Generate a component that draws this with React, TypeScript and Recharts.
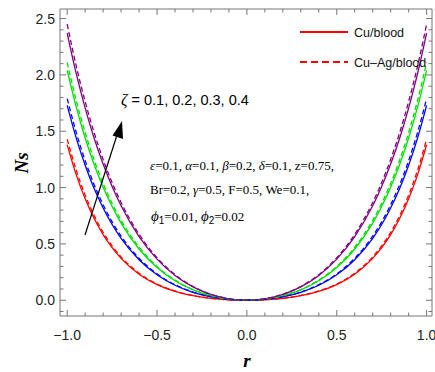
import React from 'react';
import { LineChart, Line, XAxis, YAxis } from 'recharts';

// radial coordinate r
const rValues = [-1, -0.95, -0.9, -0.85, -0.8, -0.75, -0.7, -0.6, -0.5, -0.4, -0.3, -0.2, -0.1, 0, 0.1, 0.2, 0.3, 0.4, 0.5, 0.6, 0.7, 0.75, 0.8, 0.85, 0.9, 0.95, 1];

// Ns for zeta = 0.1 .. 0.4, Cu/blood (solid) and Cu-Ag/blood (dashed)
const redCu = [1.38, 1.115, 0.9, 0.725, 0.582, 0.466, 0.371, 0.231, 0.139, 0.079, 0.041, 0.017, 0.004, 0, 0.004, 0.017, 0.041, 0.079, 0.139, 0.231, 0.371, 0.466, 0.582, 0.725, 0.9, 1.115, 1.38];
const redAg = [1.43, 1.156, 0.933, 0.751, 0.603, 0.483, 0.385, 0.24, 0.144, 0.082, 0.042, 0.017, 0.004, 0, 0.004, 0.017, 0.042, 0.082, 0.144, 0.24, 0.385, 0.483, 0.603, 0.751, 0.933, 1.156, 1.43];
const blueCu = [1.73, 1.441, 1.198, 0.991, 0.818, 0.672, 0.549, 0.36, 0.226, 0.133, 0.07, 0.03, 0.007, 0, 0.007, 0.03, 0.07, 0.133, 0.226, 0.36, 0.549, 0.672, 0.818, 0.991, 1.198, 1.441, 1.73];
const blueAg = [1.79, 1.491, 1.239, 1.026, 0.847, 0.696, 0.569, 0.372, 0.234, 0.138, 0.072, 0.031, 0.007, 0, 0.007, 0.031, 0.072, 0.138, 0.234, 0.372, 0.569, 0.696, 0.847, 1.026, 1.239, 1.491, 1.79];
const greenCu = [2.04, 1.716, 1.44, 1.204, 1.003, 0.832, 0.685, 0.455, 0.29, 0.173, 0.092, 0.039, 0.01, 0, 0.01, 0.039, 0.092, 0.173, 0.29, 0.455, 0.685, 0.832, 1.003, 1.204, 1.44, 1.716, 2.04];
const greenAg = [2.11, 1.775, 1.489, 1.245, 1.037, 0.86, 0.709, 0.471, 0.3, 0.179, 0.095, 0.04, 0.01, 0, 0.01, 0.04, 0.095, 0.179, 0.3, 0.471, 0.709, 0.86, 1.037, 1.245, 1.489, 1.775, 2.11];
const purpleCu = [2.37, 2.013, 1.705, 1.438, 1.209, 1.01, 0.839, 0.565, 0.365, 0.22, 0.118, 0.051, 0.012, 0, 0.012, 0.051, 0.118, 0.22, 0.365, 0.565, 0.839, 1.01, 1.209, 1.438, 1.705, 2.013, 2.37];
const purpleAg = [2.45, 2.081, 1.763, 1.487, 1.25, 1.044, 0.868, 0.585, 0.377, 0.227, 0.122, 0.052, 0.013, 0, 0.013, 0.052, 0.122, 0.227, 0.377, 0.585, 0.868, 1.044, 1.25, 1.487, 1.763, 2.081, 2.45];

const xTicks = [-1, -0.9, -0.8, -0.7, -0.6, -0.5, -0.4, -0.3, -0.2, -0.1, 0, 0.1, 0.2, 0.3, 0.4, 0.5, 0.6, 0.7, 0.8, 0.9, 1];
const yTicks = [-0.1, 0, 0.1, 0.2, 0.3, 0.4, 0.5, 0.6, 0.7, 0.8, 0.9, 1, 1.1, 1.2, 1.3, 1.4, 1.5, 1.6, 1.7, 1.8, 1.9, 2, 2.1, 2.2, 2.3, 2.4, 2.5];

const series = [
  { key: 'redCu', values: redCu, color: '#ff0000', dashed: false },
  { key: 'blueCu', values: blueCu, color: '#0000ff', dashed: false },
  { key: 'greenCu', values: greenCu, color: '#00e000', dashed: false },
  { key: 'purpleCu', values: purpleCu, color: '#800080', dashed: false },
  { key: 'redAg', values: redAg, color: '#ff0000', dashed: true },
  { key: 'blueAg', values: blueAg, color: '#0000ff', dashed: true },
  { key: 'greenAg', values: greenAg, color: '#00e000', dashed: true },
  { key: 'purpleAg', values: purpleAg, color: '#800080', dashed: true },
];

const data = rValues.map((r, i) => {
  const row: Record<string, number> = { r };
  series.forEach(s => { row[s.key] = s.values[i]; });
  return row;
});

const frame = '#777';
const sans = '"Liberation Sans", Arial, sans-serif';
const serif = '"Liberation Serif", "Times New Roman", serif';

const isMajor = (v: number) => Math.abs(v * 2 - Math.round(v * 2)) < 1e-6;
const fmt = (v: number) => (v < 0 ? '\u2212' : '') + Math.abs(v).toFixed(1);

function BottomTick({ x, y, payload }: any) {
  const major = isMajor(payload.value);
  return (
    <g>
      <line x1={x} y1={y} x2={x} y2={y - (major ? 6 : 3.5)} stroke={frame} />
      {major && (
        <text x={x} y={y + 24} textAnchor="middle" fontFamily={sans} fontSize={14} fill="#222">
          {fmt(payload.value)}
        </text>
      )}
    </g>
  );
}

function TopTick({ x, y, payload }: any) {
  const major = isMajor(payload.value);
  return <line x1={x} y1={y} x2={x} y2={y + (major ? 6 : 3.5)} stroke={frame} />;
}

function LeftTick({ x, y, payload }: any) {
  const major = isMajor(payload.value);
  return (
    <g>
      <line x1={x} y1={y} x2={x + (major ? 6 : 3.5)} y2={y} stroke={frame} />
      {major && (
        <text x={x - 5} y={y + 5} textAnchor="end" fontFamily={sans} fontSize={14} fill="#222">
          {fmt(payload.value)}
        </text>
      )}
    </g>
  );
}

function RightTick({ x, y, payload }: any) {
  const major = isMajor(payload.value);
  return <line x1={x} y1={y} x2={x - (major ? 6 : 3.5)} y2={y} stroke={frame} />;
}

export default function App() {
  return (
    <div style={{ position: 'absolute', left: 0, top: 0, width: 435, height: 372, background: '#fff' }}>
      <LineChart width={435} height={372} data={data} margin={{ top: 5, right: 1, bottom: 0, left: 0 }}>
        <XAxis dataKey="r" type="number" domain={[-1.04, 1.03]} allowDataOverflow ticks={xTicks} interval={0}
          height={56} tickSize={0} tickMargin={0} tickLine={false} axisLine={{ stroke: frame }} tick={BottomTick} />
        <XAxis xAxisId="top" dataKey="r" orientation="top" type="number" domain={[-1.04, 1.03]} allowDataOverflow ticks={xTicks}
          interval={0} height={4} tickSize={0} tickMargin={0} tickLine={false} axisLine={{ stroke: frame }} tick={TopTick} />
        <YAxis type="number" domain={[-0.14, 2.585]} allowDataOverflow ticks={yTicks} interval={0} width={60}
          tickSize={0} tickMargin={0} tickLine={false} axisLine={{ stroke: frame }} tick={LeftTick} />
        <YAxis yAxisId="right" orientation="right" type="number" domain={[-0.14, 2.585]} allowDataOverflow ticks={yTicks}
          interval={0} width={2} tickSize={0} tickMargin={0} tickLine={false} axisLine={{ stroke: frame }} tick={RightTick} />
        {/* invisible series that binds the top and right frame axes */}
        <Line xAxisId="top" yAxisId="right" dataKey="redCu" stroke="none" dot={false} legendType="none" isAnimationActive={false} />
        {series.map(s => (
          <Line key={s.key} type="monotone" dataKey={s.key} stroke={s.color} strokeWidth={1.3}
            strokeDasharray={s.dashed ? '5 3' : undefined} dot={false} isAnimationActive={false} />
        ))}
      </LineChart>

      <svg width={435} height={372} style={{ position: 'absolute', left: 0, top: 0, pointerEvents: 'none' }}>
        {/* legend */}
        <line x1={300} y1={32} x2={348} y2={32} stroke="#ff0000" strokeWidth={2} />
        <text x={354} y={37} fontFamily={sans} fontSize={12.5} fill="#111">Cu/blood</text>
        <line x1={300} y1={62} x2={348} y2={62} stroke="#ff0000" strokeWidth={2} strokeDasharray="7 4" />
        <text x={354} y={67} fontFamily={sans} fontSize={12.5} fill="#111">Cu–Ag/blood</text>

        {/* zeta arrow */}
        <line x1={85} y1={235} x2={117} y2={135} stroke="#000" strokeWidth={1.2} />
        <polygon points="122,121 112.5,135.5 123,139" fill="#000" />
        <text x={121} y={105} fontFamily={sans} fontSize={14.5} fill="#000">
          <tspan fontStyle="italic" fontFamily={serif} fontSize={16}>ζ</tspan> = 0.1, 0.2, 0.3, 0.4
        </text>

        {/* parameters */}
        <text x={150} y={170} fontFamily={serif} fontSize={13} fill="#000">
          <tspan fontStyle="italic">ε</tspan>=0.1, <tspan fontStyle="italic">α</tspan>=0.1, <tspan fontStyle="italic">β</tspan>=0.2, <tspan fontStyle="italic">δ</tspan>=0.1, z=0.75,
        </text>
        <text x={150} y={194} fontFamily={serif} fontSize={13} fill="#000">
          Br=0.2, <tspan fontStyle="italic">γ</tspan>=0.5, F=0.5, We=0.1,
        </text>
        <text x={151} y={221} fontFamily={serif} fontSize={13} fill="#000">
          <tspan fontStyle="italic" fontSize={15}>ϕ</tspan><tspan fontFamily={sans} fontSize={10} dy={3}>1</tspan><tspan dy={-3}>=0.01, </tspan>
          <tspan fontStyle="italic" fontSize={15}>ϕ</tspan><tspan fontFamily={sans} fontSize={10} dy={3}>2</tspan><tspan dy={-3}>=0.02</tspan>
        </text>

        {/* axis titles */}
        <text x={247} y={367} textAnchor="middle" fontFamily={serif} fontStyle="italic" fontWeight="bold" fontSize={19} fill="#000">r</text>
        <text transform="translate(28,163) rotate(-90)" textAnchor="middle" fontFamily={serif} fontStyle="italic" fontWeight="bold" fontSize={19} fill="#000">Ns</text>
      </svg>
    </div>
  );
}
